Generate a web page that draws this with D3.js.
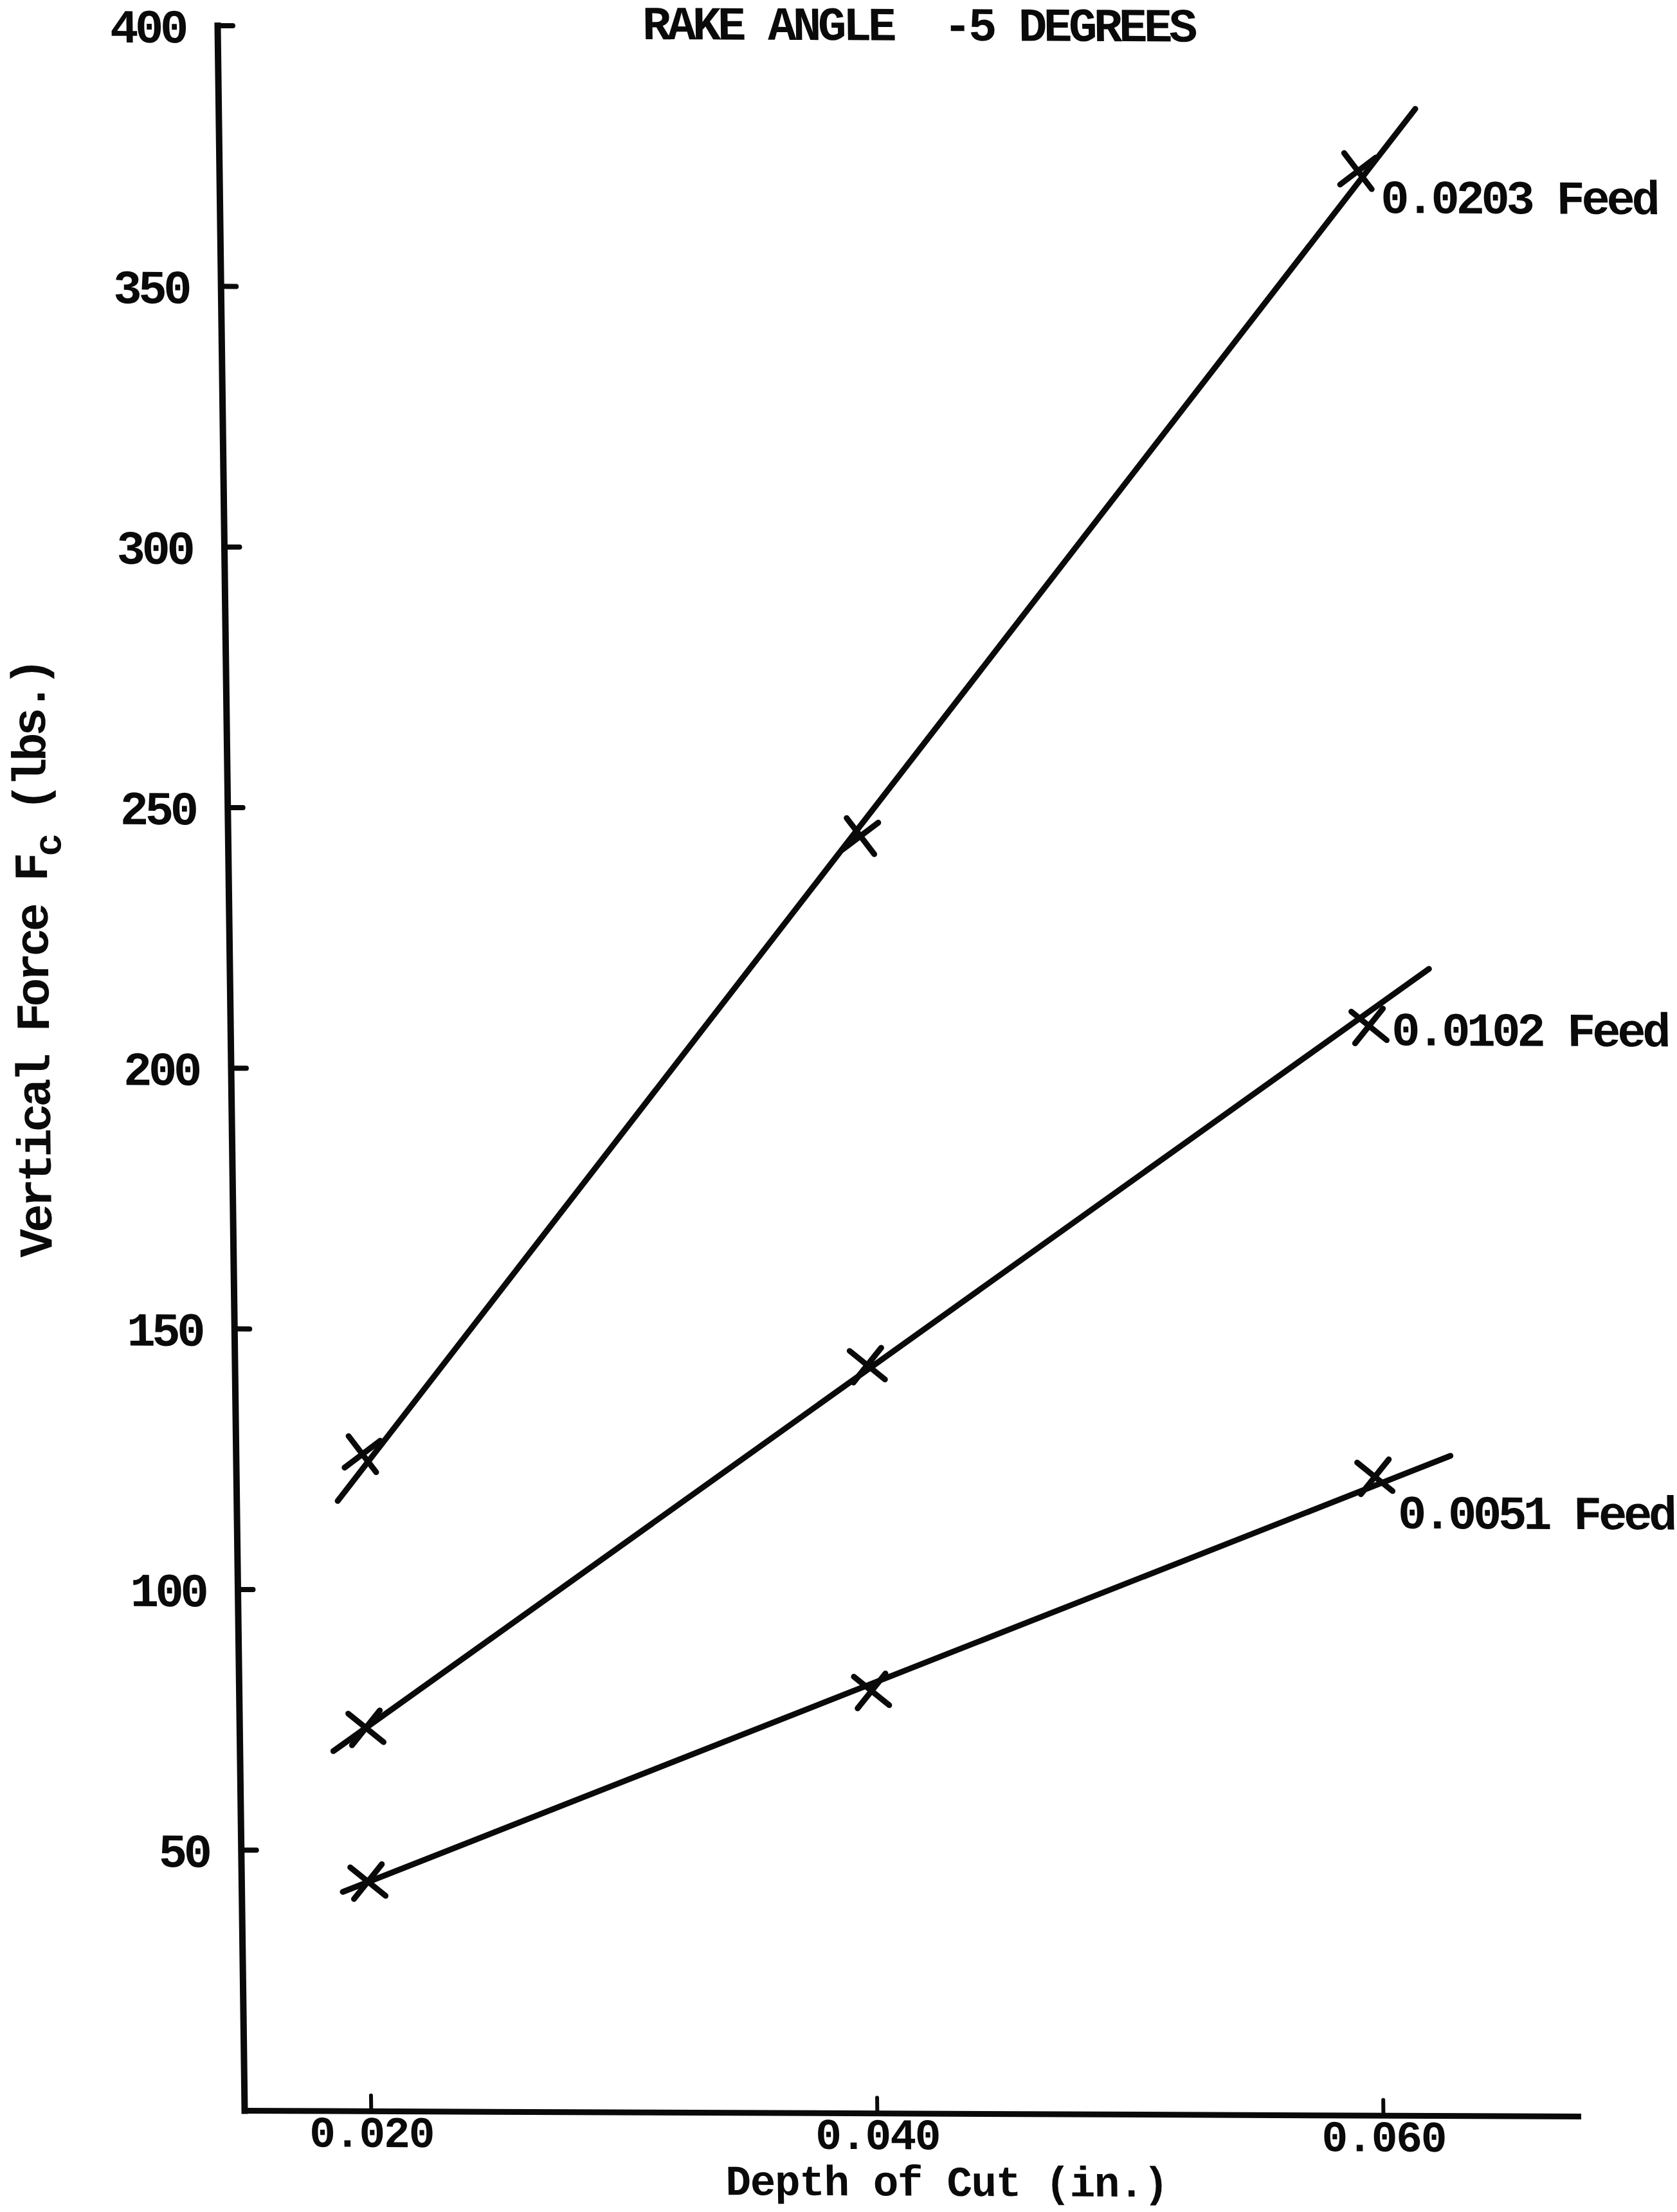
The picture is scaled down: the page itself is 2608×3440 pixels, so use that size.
<!DOCTYPE html>
<html>
<head>
<meta charset="utf-8">
<script src="https://cdn.jsdelivr.net/npm/d3@7"></script>
<style>
  html, body { margin: 0; padding: 0; background: #ffffff; }
  svg { display: block; }
</style>
</head>
<body>
<script>
// ---------------- DATA ----------------
const depthTicks = [0.020, 0.040, 0.060];
const depthTickLabels = ["0.020", "0.040", "0.060"];
const forceTicks = [50, 100, 150, 200, 250, 300, 350, 400];

const feedNames = ["0.0203 Feed", "0.0102 Feed", "0.0051 Feed"];
const depths = [0.020, 0.040, 0.060];
const force0203 = [126, 245, 373];
const force0102 = [73.5, 143.5, 209];
const force0051 = [44, 81, 122.5];

// straight fitted lines drawn through each series: [depth, force] at both ends
const fit0203 = [[0.0190, 117], [0.0623, 385]];
const fit0102 = [[0.0187, 69], [0.0624, 220]];
const fit0051 = [[0.0190, 42], [0.0630, 126.6]];

const titleText = "RAKE ANGLE\u00A0\u00A0-5 DEGREES";
const xTitleText = "Depth of Cut (in.)";
const yTitleMain = "Vertical Force F";
const yTitleSub = "c";
const yTitleUnit = "\u00A0(lbs.)";

// ---------------- LAYOUT / STYLE ----------------
const W = 2608, H = 3440;
const skewK = 0.01296;   // paper skew of the scan: y-axis leans left toward the top
const skewM = 0.00434;   // x-axis drops slightly to the right
const FONT = "'Liberation Mono','Courier New','DejaVu Sans Mono',monospace";
const FS = 74, LS = -5.4;
const INK = "#0a0a0a";
const labelOffsets = [[35, 65], [35, 30], [35, 80]];

const x = d3.scaleLinear().domain([0.015, 0.0677]).range([380, 2454]);
const y = d3.scaleLinear().domain([0, 400]).range([3282, 39.5]);

const svg = d3.select("body").append("svg")
  .attr("width", W).attr("height", H)
  .attr("viewBox", `0 0 ${W} ${H}`);

svg.append("rect").attr("width", W).attr("height", H).attr("fill", "#ffffff");

const y0px = y(0), x0px = x(0.015);
const g = svg.append("g")
  .attr("transform", `matrix(1,${skewM},${skewK},1,${-skewK * y0px},${-skewM * x0px})`);

function styleText(sel, fs = FS, ls = LS) {
  sel.attr("font-family", FONT)
     .attr("font-weight", "bold")
     .attr("font-size", fs)
     .attr("letter-spacing", ls)
     .attr("fill", INK);
}

// ---- y axis ----
const yAxis = d3.axisLeft(y)
  .tickValues(forceTicks)
  .tickFormat(d3.format("d"))
  .tickSizeInner(-24)
  .tickSizeOuter(0)
  .tickPadding(50);

const gy = g.append("g").attr("transform", `translate(${x0px},0)`).call(yAxis);
gy.select(".domain").attr("stroke", INK).attr("stroke-width", 10).attr("stroke-linecap", "square");
gy.selectAll(".tick line").attr("stroke", INK).attr("stroke-width", 8).attr("stroke-linecap", "round");
gy.selectAll(".tick text").call(styleText).attr("dy", "0.36em");
gy.attr("font-family", null).attr("font-size", null);

// ---- x axis ----
const xAxis = d3.axisBottom(x)
  .tickValues(depthTicks)
  .tickFormat((d, i) => depthTickLabels[i])
  .tickSizeInner(-24)
  .tickSizeOuter(0)
  .tickPadding(10);

const gx = g.append("g").attr("transform", `translate(0,${y0px})`).call(xAxis);
gx.select(".domain").attr("stroke", INK).attr("stroke-width", 9).attr("stroke-linecap", "square");
gx.selectAll(".tick line").attr("stroke", INK).attr("stroke-width", 6).attr("stroke-linecap", "round");
gx.selectAll(".tick text").call(styleText, 68, -2.2).attr("y", 56).attr("dy", 0);
gx.attr("font-family", null).attr("font-size", null);

// ---- fitted lines ----
const series = [
  { name: feedNames[0], values: force0203, fit: fit0203 },
  { name: feedNames[1], values: force0102, fit: fit0102 },
  { name: feedNames[2], values: force0051, fit: fit0051 }
];

const line = d3.line().x(d => x(d[0])).y(d => y(d[1]));

g.selectAll("path.fit").data(series).join("path")
  .attr("class", "fit")
  .attr("d", d => line(d.fit))
  .attr("fill", "none")
  .attr("stroke", INK)
  .attr("stroke-width", 9)
  .attr("stroke-linecap", "round");

// ---- markers (hand-drawn style x) ----
const sym = d3.symbol(d3.symbolX, 1600);
series.forEach((s, si) => {
  g.selectAll(null).data(s.values.map((v, i) => [depths[i], v])).join("path")
    .attr("transform", d => `translate(${x(d[0])},${y(d[1])}) rotate(${si === 0 ? 8 : -6})`)
    .attr("d", sym())
    .attr("fill", "none")
    .attr("stroke", INK)
    .attr("stroke-width", 9)
    .attr("stroke-linecap", "round");
});

// ---- series labels ----
series.forEach((s, si) => {
  const last = s.values.length - 1;
  g.append("text")
    .attr("x", x(depths[last]) + labelOffsets[si][0])
    .attr("y", y(s.values[last]) + labelOffsets[si][1])
    .call(styleText)
    .text(s.name);
});

// ---- title ----
g.append("text")
  .attr("x", 1470).attr("y", 58)
  .attr("text-anchor", "middle")
  .call(styleText)
  .text(titleText);

// ---- x title ----
g.append("text")
  .attr("x", 1471).attr("y", 3410)
  .attr("text-anchor", "middle")
  .call(styleText, 66, -1.4)
  .text(xTitleText);

// ---- y title ----
const yt = g.append("text")
  .attr("transform", `translate(98,1493) rotate(-90)`)
  .attr("text-anchor", "middle")
  .call(styleText);
yt.append("tspan").text(yTitleMain);
yt.append("tspan").attr("font-size", 60).attr("dy", 22).text(yTitleSub);
yt.append("tspan").attr("dy", -22).text(yTitleUnit);
</script>
</body>
</html>
